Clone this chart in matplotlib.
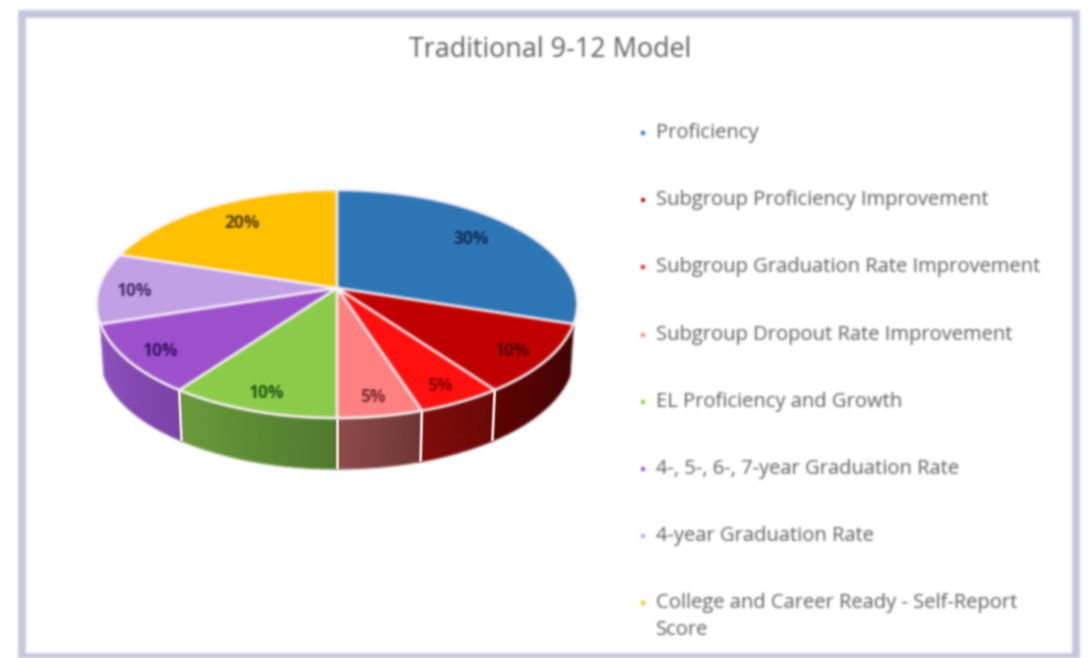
import numpy as np
import matplotlib
matplotlib.use('Agg')
from matplotlib import pyplot as plt
from matplotlib.collections import PolyCollection
from matplotlib.patches import Rectangle

plt.rcParams['font.family'] = ['Open Sans', 'DejaVu Sans']

title = 'Traditional 9-12 Model'
categories = ['Proficiency',
              'Subgroup Proficiency Improvement',
              'Subgroup Graduation Rate Improvement',
              'Subgroup Dropout Rate Improvement',
              'EL Proficiency and Growth',
              '4-, 5-, 6-, 7-year Graduation Rate',
              '4-year Graduation Rate',
              'College and Career Ready - Self-Report\nScore']
shares = [30, 10, 5, 5, 10, 10, 10, 20]

top_colors = ['#2E75B6', '#C00000', '#FF1010', '#FF8080',
              '#8CCB4A', '#9C50CC', '#C39FE6', '#FFC000']
rim_start = ['#1F4E79', '#3E0000', '#6A0606', '#6E3434',
             '#4F7A2C', '#7B42A8', '#9A70C0', '#A87E00']
rim_end = ['#1F4E79', '#5C0000', '#800A0A', '#8E4A4A',
           '#6A9A3A', '#8E50BE', '#9A70C0', '#A87E00']
label_colors = ['#10315A', '#5A0000', '#8A0000', '#7A2A30',
                '#1E5A10', '#3A0F66', '#4A2A70', '#5A4300']

# pie geometry in pixels, with a perspective tilt
cx, cy = 337, 288
radius = 238
tilt = -0.14
stretch = 71.5
depth = 51


def project(ang, r=1.0):
    # ang in degrees, clockwise from twelve o'clock
    u = r * np.sin(np.radians(ang))
    v = -r * np.cos(np.radians(ang))
    w = 1 / (1 + tilt * v)
    return cx + radius * u * w, (stretch * v + cy) * w


def blur(sigma):
    def apply(image, dpi):
        pad = int(3 * sigma) + 1
        img = np.pad(image, ((pad, pad), (pad, pad), (0, 0))).astype(float)
        alpha = img[..., 3:].copy()
        img[..., :3] *= alpha
        k = np.exp(-0.5 * (np.arange(-pad, pad + 1) / sigma) ** 2)
        k = k / k.sum()
        for axis in (0, 1):
            img = np.apply_along_axis(np.convolve, axis, img, k, mode='same')
        img[..., :3] /= np.maximum(img[..., 3:], 1e-4)
        return np.clip(img, 0, 1), -pad, -pad
    return apply


fig = plt.figure(figsize=(10.89, 6.58), dpi=100)
ax = fig.add_axes([0, 0, 1, 1])
ax.set_xlim(0, 1089)
ax.set_ylim(658, 0)
ax.axis('off')

frame = Rectangle((22, 14), 1054, 643, fill=False, edgecolor='#C6C4DC', linewidth=5.5)
ax.add_patch(frame)
frame.set_agg_filter(blur(1.3))

edges = np.cumsum([0] + shares) * 3.6

# side wall first, only the slices facing the viewer
rim_polys = []
rim_cols = []
for i in range(len(shares)):
    a0, a1 = edges[i], edges[i + 1]
    if -np.cos(np.radians((a0 + a1) / 2)) < 0.01:
        continue
    steps = np.linspace(a0, a1, 25)
    c0 = np.array(matplotlib.colors.to_rgb(rim_start[i]))
    c1 = np.array(matplotlib.colors.to_rgb(rim_end[i]))
    for j in range(24):
        t = np.linspace(steps[j], steps[j + 1], 4)
        x, y = project(t)
        xs = np.r_[x, cx + (x[::-1] - cx) * 0.985]
        ys = np.r_[y, y[::-1] + depth]
        rim_polys.append(np.c_[xs, ys])
        rim_cols.append(c0 + (c1 - c0) * j / 23)
rim = PolyCollection(rim_polys, facecolors=rim_cols, edgecolors=rim_cols,
                     linewidths=0.6, zorder=2)
ax.add_collection(rim)
rim.set_agg_filter(blur(0.9))

# white seams on the wall
for a in edges:
    if -np.cos(np.radians(a)) > 0.35:
        x, y = project(a)
        seam, = ax.plot([x, cx + (x - cx) * 0.985], [y, y + depth], color='#F7E4E4',
                        linewidth=2, zorder=3, solid_capstyle='butt')
        seam.set_agg_filter(blur(0.7))

# top face
top_polys = []
for i in range(len(shares)):
    t = np.linspace(edges[i], edges[i + 1], 80)
    x, y = project(t)
    top_polys.append(np.c_[np.r_[cx, x], np.r_[cy, y]])
top = PolyCollection(top_polys, facecolors=top_colors, edgecolors='#FBF3F8',
                     linewidths=1.8, joinstyle='round', zorder=4)
ax.add_collection(top)
top.set_agg_filter(blur(0.9))

# data labels
for i, s in enumerate(shares):
    mid = (edges[i] + edges[i + 1]) / 2
    lx, ly = project(mid, 0.74 if s >= 20 else 0.85)
    txt = ax.text(lx, ly + (-3 if s >= 20 else 3), f'{s}%', ha='center', va='center',
                  fontsize=12.5, fontweight='bold', color=label_colors[i], zorder=6)
    txt.set_agg_filter(blur(1.1))

txt = ax.text(550, 50, title, ha='center', va='center', fontsize=19.4, color='#5E5E5E')
txt.set_agg_filter(blur(1.2))

# legend
legend_y = 133
legend_step = 67.2
for i, name in enumerate(categories):
    y = legend_y + i * legend_step
    mark = ax.scatter([643], [y], marker='s', s=11, color=top_colors[i], linewidths=0)
    mark.set_agg_filter(blur(0.9))
    for k, line in enumerate(name.split('\n')):
        txt = ax.text(656, y + k * 27, line, ha='left', va='center', fontsize=14.5,
                      color='#5E5E5E')
        txt.set_agg_filter(blur(1.2))

plt.savefig('out.png', dpi=100, facecolor='white')
